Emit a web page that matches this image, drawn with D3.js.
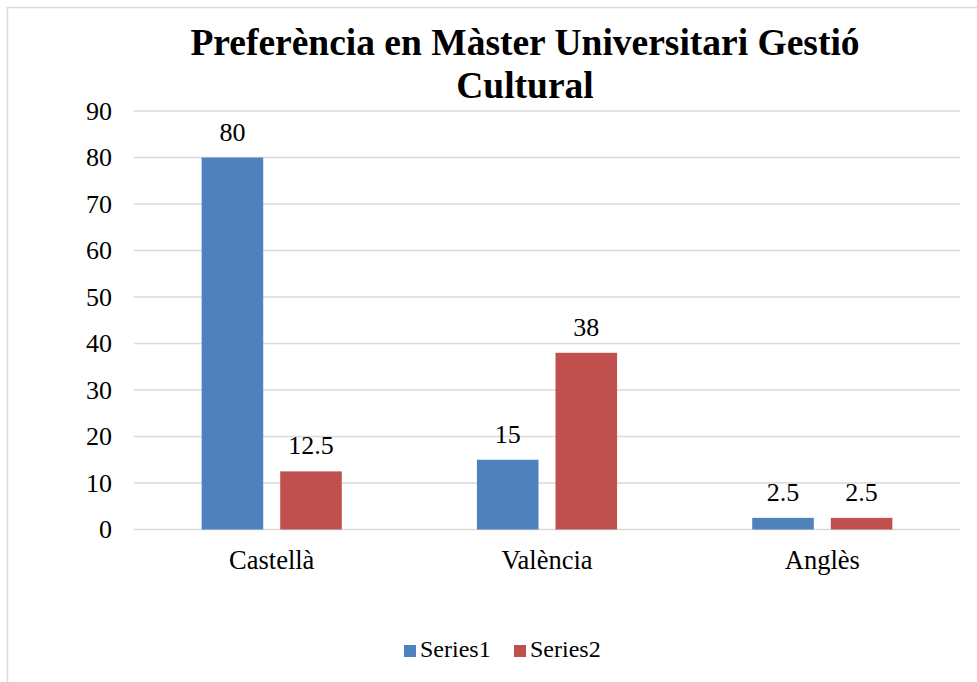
<!DOCTYPE html>
<html>
<head>
<meta charset="utf-8">
<script src="https://cdn.jsdelivr.net/npm/d3@7"></script>
<style>
  html, body { margin: 0; padding: 0; background: #fff; }
</style>
</head>
<body>
<svg id="chart" width="977" height="682"></svg>
<script>
// ── Data ──
const categories = ['Castellà', 'València', 'Anglès'];
const seriesNames = ['Series1', 'Series2'];
const series1 = [80, 15, 2.5];
const series2 = [12.5, 38, 2.5];
const yTicks = [0, 10, 20, 30, 40, 50, 60, 70, 80, 90];
const titleLines = ['Preferència en Màster Universitari Gestió', 'Cultural'];

const COLORS = ['#4F81BD', '#C0504D'];
const FONT = "'Liberation Serif', 'Times New Roman', Times, serif";

const svg = d3.select('#chart');

// chart area border (runs off right/bottom edge)
svg.append('rect')
  .attr('x', 7.5).attr('y', 7.5)
  .attr('width', 1100).attr('height', 800)
  .attr('fill', '#fff').attr('stroke', '#d9d9d9').attr('stroke-width', 1.5);

// ── Title ──
svg.append('g').selectAll('text').data(titleLines).join('text')
  .attr('x', 525).attr('y', (d, i) => 55 + i * 43)
  .attr('text-anchor', 'middle')
  .style('font-family', FONT)
  .style('font-size', '37.5px').style('font-weight', 'bold')
  .text(d => d);

// ── Scales ──
const plot = { left: 134, right: 960, top: 111, bottom: 529.5 };

const x0 = d3.scaleBand().domain(categories)
  .range([plot.left, plot.right])
  .paddingInner(0.491).paddingOuter(0.2457);

const x1 = d3.scaleBand().domain(seriesNames)
  .range([0, x0.bandwidth()])
  .paddingInner(0.2166);

const y = d3.scaleLinear().domain([0, 90]).range([plot.bottom, plot.top]);

// ── Gridlines ──
svg.append('g').selectAll('line').data(yTicks).join('line')
  .attr('x1', plot.left).attr('x2', plot.right)
  .attr('y1', d => y(d)).attr('y2', d => y(d))
  .attr('stroke', '#d9d9d9').attr('stroke-width', 1.5);

// ── Y axis labels ──
const yAxis = svg.append('g')
  .attr('transform', `translate(${plot.left - 22},0)`)
  .call(d3.axisLeft(y).tickValues(yTicks).tickSize(0).tickPadding(0).tickFormat(d3.format('d')));
yAxis.select('.domain').remove();
yAxis.attr('font-family', null).attr('font-size', null);
yAxis.selectAll('text')
  .style('font-family', FONT).style('font-size', '26px')
  .attr('fill', '#000');

// ── Bars ──
const rows = categories.map((c, i) => ({
  cat: c,
  vals: [
    { name: seriesNames[0], value: series1[i], color: COLORS[0] },
    { name: seriesNames[1], value: series2[i], color: COLORS[1] }
  ]
}));

const groups = svg.append('g').selectAll('g').data(rows).join('g')
  .attr('transform', d => `translate(${x0(d.cat)},0)`);

groups.selectAll('rect').data(d => d.vals).join('rect')
  .attr('x', d => x1(d.name))
  .attr('y', d => y(d.value))
  .attr('width', x1.bandwidth())
  .attr('height', d => y(0) - y(d.value))
  .attr('fill', d => d.color);

// value labels
groups.selectAll('text').data(d => d.vals).join('text')
  .attr('x', d => x1(d.name) + x1.bandwidth() / 2)
  .attr('y', d => y(d.value) - 17)
  .attr('text-anchor', 'middle')
  .style('font-family', FONT).style('font-size', '26px')
  .text(d => d.value);

// ── X axis labels ──
svg.append('g').selectAll('text').data(categories).join('text')
  .attr('x', d => x0(d) + x0.bandwidth() / 2)
  .attr('y', 569)
  .attr('text-anchor', 'middle')
  .style('font-family', FONT).style('font-size', '26.5px')
  .text(d => d);

// ── Legend ──
const legend = svg.append('g').attr('transform', 'translate(404,645)');
const item = legend.selectAll('g').data(seriesNames).join('g')
  .attr('transform', (d, i) => `translate(${i * 110},0)`);
item.append('rect')
  .attr('width', 12).attr('height', 12)
  .attr('fill', (d, i) => COLORS[i]);
item.append('text')
  .attr('x', 16).attr('y', 12)
  .style('font-family', FONT).style('font-size', '24px')
  .text(d => d);
</script>
</body>
</html>
